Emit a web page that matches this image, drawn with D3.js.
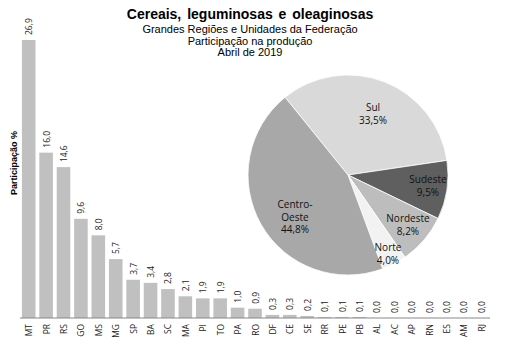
<!DOCTYPE html>
<html><head><meta charset="utf-8">
<script src="https://cdn.jsdelivr.net/npm/d3@7"></script>
<style>body{margin:0;background:#fff}</style>
</head><body>
<script>
const states = ["MT","PR","RS","GO","MS","MG","SP","BA","SC","MA","PI","TO","PA","RO","DF","CE","SE","RR","PE","PB","AL","AC","AP","RN","ES","AM","RJ"];
const shares = [26.9,16.0,14.6,9.6,8.0,5.7,3.7,3.4,2.8,2.1,1.9,1.9,1.0,0.9,0.3,0.3,0.2,0.1,0.1,0.1,0.0,0.0,0.0,0.0,0.0,0.0,0.0];
const regions = ["Sul","Sudeste","Nordeste","Norte","Centro-Oeste"];
const regionShares = [33.5,9.5,8.2,4.0,44.8];
const regionColors = ["#d9d9d9","#5f5f5f","#bdbdbd","#f2f2f2","#a8a8a8"];
const titleLines = ["Grandes Regiões e Unidades da Federação","Participação na produção","Abril de 2019"];

const W=513,H=356;
const svg=d3.select("body").append("svg").attr("width",W).attr("height",H);
const fmt=v=>v.toFixed(1).replace(".",",");

// titles
svg.append("text").attr("x",250).attr("y",19).attr("text-anchor","middle")
  .attr("font-family","Liberation Sans, Arial, sans-serif").attr("font-weight","bold").attr("font-size",14)
  .attr("word-spacing",2)
  .text("Cereais, leguminosas e oleaginosas");
titleLines.forEach((t,i)=>svg.append("text").attr("x",250).attr("y",33+i*11.5).attr("text-anchor","middle")
  .attr("font-family","Liberation Sans, Arial, sans-serif").attr("font-size",11).text(t));

// bars
const x=d3.scaleBand().domain(states).range([20,490]).paddingInner(0.22).paddingOuter(0.11);
const y=d3.scaleLinear().domain([0,26.9]).range([318,40]);
const g=svg.append("g");
g.selectAll("rect").data(states).join("rect")
  .attr("x",d=>x(d)).attr("width",x.bandwidth())
  .attr("y",(d,i)=>y(shares[i])).attr("height",(d,i)=>318-y(shares[i]))
  .attr("fill","#c0c0c0");
g.selectAll("text.v").data(states).join("text").attr("class","v")
  .attr("transform",(d,i)=>`translate(${x(d)+x.bandwidth()/2+3.5},${y(shares[i])-5}) rotate(-90)`)
  .attr("font-family","Open Sans, sans-serif").attr("font-size",8.5).attr("fill","#222")
  .text((d,i)=>fmt(shares[i]));
const xa=svg.append("g").attr("transform","translate(0,318)")
  .call(d3.axisBottom(x).tickSize(0).tickPadding(0));
xa.select(".domain").attr("stroke","#888").attr("d","M20,0H490");
xa.selectAll("text").attr("font-family","Open Sans, sans-serif").attr("font-size",8.5).attr("fill","#222")
  .attr("text-anchor","end").attr("transform","translate(3.5,6) rotate(-90)").attr("dy",0).attr("y",0).attr("x",0);

svg.append("text").attr("transform","translate(17,163) rotate(-90)").attr("text-anchor","middle")
  .attr("font-family","Liberation Sans, Arial, sans-serif").attr("font-weight","bold").attr("font-size",9)
  .text("Participação %");

// pie
const cx=348,cy=175,R=100;
const start=-39*Math.PI/180;
const pie=d3.pie().sort(null).startAngle(start).endAngle(start+2*Math.PI);
const arcs=pie(regionShares);
const arc=d3.arc().innerRadius(0).outerRadius(R);
const pg=svg.append("g").attr("transform",`translate(${cx},${cy})`);
pg.selectAll("path").data(arcs).join("path").attr("d",arc)
  .attr("fill",(d,i)=>regionColors[i]).attr("stroke","#fff").attr("stroke-width",0.8);
const labelPos=[[25,-61],[80,11],[60,50],[40,79],[-53,42]];
const labelLines=[["Sul"],["Sudeste"],["Nordeste"],["Norte"],["Centro-","Oeste"]];
arcs.forEach((a,i)=>{
  const lines=labelLines[i].concat([fmt(regionShares[i])+"%"]);
  const t=pg.append("text").attr("text-anchor","middle")
    .attr("font-family","Open Sans, sans-serif").attr("font-size",10).attr("fill","#111");
  const n=lines.length;
  lines.forEach((l,j)=>t.append("tspan").attr("x",labelPos[i][0]).attr("y",labelPos[i][1]+(j-(n-1)/2)*12.5+3.5).text(l));
});
</script>
</body></html>
